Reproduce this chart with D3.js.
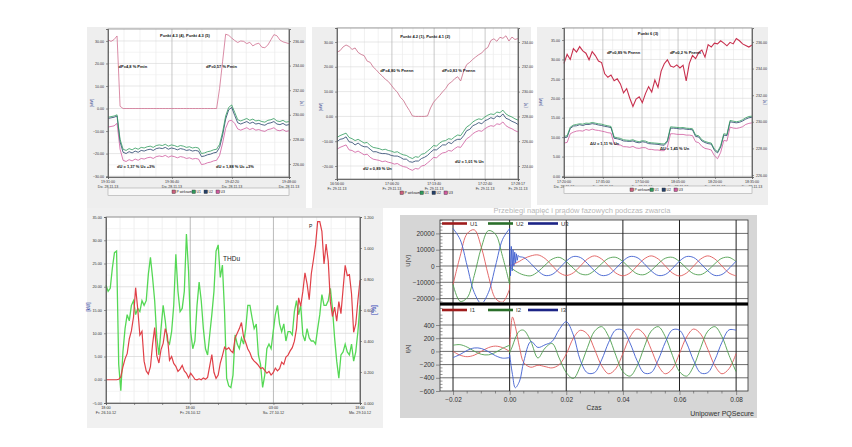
<!DOCTYPE html>
<html>
<head>
<meta charset="utf-8">
<script src="https://cdn.jsdelivr.net/npm/d3@7"></script>
<style>
  body { margin: 0; background: #fff; }
  svg { display: block; font-family: "Liberation Sans", Arial, sans-serif; }
</style>
</head>
<body>
<div id="chart"></div>
<script>
// ---------- data: top row trend records (61 samples each) ----------
var legendNames = ["P wirksam", "U1", "U2", "U3"];

var aTitle = "Punkt 4.3 (4), Punkt 4.3 (5)";
var aNotes = ["dP=4,8 % Pmin", "dP=0,57 % Pmin", "dU = 1,37 % Uc +3%", "dU = 1,88 % Uc +3%"];
var aP = [30.5,29.8,30.6,32.2,1.0,0,0,0,0,0, 0,0,0,0,0,0,0,0,0,0, 0,0,0,0,0,0,0,0,0,0,
  0,0,0,0,0,0,0,9,21,33.0, 32.5,31.3,30.2,29.3,30.0,29.8,28.8,29.4,27.8,28.6,
  29.0,27.2,27.0,28.2,30.5,32.8,32.3,30.4,29.6,29.2,28.8];
var aU1 = [229.8,229.85,229.9,230.0,228.0,227.2,227.1,227.25,227.15,227.3, 227.2,227.35,227.3,227.4,227.45,227.35,227.5,227.55,227.5,227.6,
  227.45,227.55,227.5,227.4,227.5,227.45,227.35,227.4,227.3,227.35, 227.3,226.85,226.9,227.0,227.05,227.15,227.2,227.6,228.6,229.9,
  230.6,230.8,230.2,229.6,229.5,229.6,229.7,229.55,229.65,229.5, 229.55,229.45,229.4,229.55,229.6,229.7,229.5,229.45,229.55,229.4,229.45];
var aU2 = [229.7,229.75,229.8,229.9,227.8,226.95,226.85,227.0,226.9,227.05, 226.95,227.1,227.05,227.15,227.2,227.1,227.25,227.3,227.25,227.35,
  227.2,227.3,227.25,227.15,227.25,227.2,227.1,227.15,227.05,227.1, 227.05,226.6,226.65,226.75,226.8,226.9,226.95,227.35,228.35,229.65,
  230.4,230.6,229.95,229.35,229.25,229.35,229.45,229.3,229.4,229.25, 229.3,229.2,229.15,229.3,229.35,229.45,229.25,229.2,229.3,229.15,229.2];
var aU3 = [229.0,229.05,229.1,229.3,227.2,226.3,226.2,226.35,226.25,226.4, 226.3,226.45,226.4,226.5,226.55,226.45,226.6,226.65,226.6,226.7,
  226.55,226.65,226.6,226.5,226.6,226.55,226.45,226.5,226.4,226.45, 226.4,225.95,226.0,226.1,226.15,226.25,226.3,226.7,227.7,228.9,
  229.5,229.55,229.3,228.85,228.75,228.85,228.95,228.8,228.9,228.75, 228.8,228.7,228.65,228.8,228.85,228.95,228.75,228.7,228.8,228.65,228.7];
var aLeftTicks = [30, 20, 10, 0, -10, -20, -30];
var aRightTicks = [236, 234, 232, 230, 228, 226];
var aTimeTicks = [0, 21.2, 41.1, 60];
var aTimeLabels = [["19:31:00", "Do. 28.11.13"], ["19:36:40", "Do. 28.11.13"], ["19:42:20", "Do. 28.11.13"], ["19:48:00", "Do. 28.11.13"]];

var bTitle = "Punkt 4.2 (1), Punkt 4.1 (2)";
var bNotes = ["dP=4,80 % Pnenn", "dP=0,83 % Pnenn", "dU = 0,89 % Un", "dU = 1,01 % Un"];
var bP = [25.9,26.5,28.0,28.8,28.2,27.0,27.6,25.8,25.0,24.5, 22.3,21.8,19.9,18.8,17.4,16.3,15.0,14.1,12.6,11.0,
  9.8,7.7,6.5,4.3,2.4,0.2,0,0,0,0, 0.2,3.4,5.7,7.1,8.4,9.9,11.2,13.1,13.9,15.2,
  16.0,14.3,18.3,20.9,21.8,23.0,24.0,24.9,25.6,27.0, 27.8,30.6,31.3,30.3,31.9,31.5,32.5,30.4,32.0,31.0,31.4];
var bU1 = [226.3,226.45,226.55,226.65,226.3,226.2,226.05,226.15,226.0,225.85, 225.9,225.65,225.5,225.45,225.4,225.3,225.35,225.25,225.2,225.1,
  225.15,225.0,224.9,224.85,224.7,224.6,224.75,224.7,224.95,225.0, 225.2,225.4,225.65,225.6,225.85,226.0,226.05,226.2,226.15,226.35,
  226.5,226.45,226.8,227.15,227.3,227.55,227.7,227.8,227.75,227.95, 228.1,228.2,228.15,228.35,228.3,228.5,228.2,228.05,227.95,227.8,227.7];
var bU2 = [225.95,226.15,226.2,226.35,225.95,225.9,225.7,225.85,225.65,225.55, 225.55,225.35,225.15,225.15,225.05,225.0,225.0,224.95,224.85,224.8,
  224.8,224.7,224.55,224.55,224.35,224.3,224.4,224.4,224.6,224.7, 224.85,225.1,225.3,225.3,225.5,225.7,225.7,225.9,225.8,226.05,
  226.15,226.15,226.45,226.85,226.95,227.25,227.35,227.5,227.4,227.65, 227.75,227.9,227.8,228.05,227.95,228.2,227.85,227.75,227.6,227.5,227.35];
var bU3 = [225.35,225.5,225.6,225.7,225.3,225.25,225.1,225.2,225.05,224.9, 224.95,224.7,224.55,224.5,224.45,224.35,224.4,224.3,224.25,224.15,
  224.2,224.05,223.95,223.9,223.75,223.65,223.8,223.75,224.0,224.05, 224.25,224.45,224.7,224.65,224.9,225.05,225.1,225.25,225.2,225.4,
  225.55,225.5,225.85,226.2,226.35,226.6,226.75,226.85,226.8,227.0, 227.15,227.25,227.2,227.4,227.35,227.55,227.25,227.1,227.0,226.85,226.75];
var bLeftTicks = [30, 20, 10, 0, -10, -20];
var bRightTicks = [234, 232, 230, 228, 226, 224];
var bTimeTicks = [0, 18.2, 32.2, 49.1, 60];
var bTimeLabels = [["16:56:00", "Fr. 29.11.13"], ["17:06:20", "Fr. 29.11.13"], ["17:13:40", "Fr. 29.11.13"], ["17:22:40", "Fr. 29.11.13"], ["17:28:17", "Fr. 29.11.13"]];

var cTitle = "Punkt 6 (3)";
var cNotes = ["dP=0,89 % Pnenn", "dP=0,2 % Pnenn", "\u0394U = 1,11 % Un", "\u0394U = 1,45 % Un"];
var cP = [29.0,31.3,30.0,32.8,31.9,33.3,32.2,31.6,29.9,32.0, 31.0,29.6,29.2,26.3,25.4,26.0,24.5,25.0,23.7,21.4,
  22.5,20.0,17.9,19.8,20.4,18.9,21.2,23.0,21.6,24.7, 22.8,27.0,28.9,29.9,28.3,28.0,28.6,27.8,28.5,24.5,
  29.0,31.0,30.2,31.8,32.4,30.6,33.8,33.2,34.2,34.0, 34.8,34.2,33.5,34.4,34.0,35.4,34.8,34.0,33.6,33.2,33.7];
var cU1 = [228.9,228.95,229.6,229.75,229.8,229.85,229.82,229.9,229.88,229.95, 229.9,229.85,229.82,229.75,229.7,229.65,228.85,228.8,228.75,228.65,
  228.62,228.6,228.65,228.55,228.5,228.58,228.55,228.45,228.42,228.4, 228.38,228.35,228.33,228.6,229.62,229.6,229.58,229.55,229.57,229.52,
  229.5,229.48,229.0,228.95,228.65,228.52,228.45,228.4,227.95,227.75, 228.2,229.1,229.05,230.1,230.05,230.0,230.05,230.15,230.3,230.4,230.42];
var cU2 = [228.8,228.85,229.5,229.68,229.7,229.78,229.72,229.8,229.8,229.86, 229.82,229.76,229.72,229.66,229.62,229.56,228.76,228.72,228.66,228.56,
  228.54,228.52,228.56,228.46,228.42,228.5,228.46,228.36,228.34,228.32, 228.3,228.26,228.24,228.5,229.52,229.52,229.5,229.46,229.48,229.44,
  229.42,229.4,228.9,228.86,228.56,228.44,228.36,228.32,227.86,227.66, 228.1,229.0,228.96,230.0,229.96,229.92,229.96,230.06,230.2,230.3,230.34];
var cU3 = [228.4,228.45,229.1,229.22,229.3,229.33,229.3,229.42,229.36,229.45, 229.38,229.35,229.3,229.25,229.18,229.15,228.35,228.28,228.25,228.13,
  228.12,228.08,228.15,228.03,228.0,228.06,228.05,227.93,227.92,227.88, 227.88,227.83,227.83,228.1,229.1,229.1,229.06,229.05,229.05,229.0,
  229.0,228.96,228.5,228.43,228.15,228.0,227.95,227.88,227.45,227.22, 227.7,228.6,228.55,229.6,229.53,229.5,229.55,229.63,229.8,229.88,229.92];
var cLeftTicks = [35, 30, 25, 20, 15, 10, 5, 0];
var cRightTicks = [236, 234, 232, 230, 228, 226];
var cTimeTicks = [0, 12.4, 24.9, 36.4, 48.2, 60];
var cTimeLabels = [["17:20:00", "Do. 28.11.13"], ["17:35:00", "Do. 28.11.13"], ["17:50:00", "Do. 28.11.13"], ["18:05:00", "Do. 28.11.13"], ["18:20:00", "Do. 28.11.13"], ["18:35:00", "Do. 28.11.13"]];

// ---------- data: bottom-left, P [kW] and THDu [%] (121 samples) ----------
var dP = [0,0,0,0,0,0,0.1,0.6,2.8,4.5, 5.6,8.8,10.5,13.5,19.8,15.2,9.6,10.4,4.0,1.9,
  1.2,2.8,7.6,11.2,5.2,3.6,6.5,7.8,11.0,9.5, 4.2,5.0,3.5,2.9,1.8,2.3,3.1,1.9,1.4,0.4,
  1.4,0.8,0.1,0.0,0.2,0.0,0.4,0.1,0.5,3.0, 5.4,1.6,0.3,1.0,3.6,5.2,7.0,6.5,6.9,6.2,
  5.8,9.0,10.0,11.0,12.3,9.2,8.0,6.6,5.8,4.6, 4.0,3.6,3.1,2.4,2.6,2.0,1.4,1.8,1.0,1.5,
  2.5,1.9,2.4,3.8,3.3,4.9,5.3,6.2,6.9,8.3, 11.0,17.6,15.8,19.0,23.0,20.6,17.2,22.8,25.8,29.0,
  34.0,34.0,31.9,24.9,29.2,25.5,16.8,13.6,15.6,12.6, 16.8,14.2,19.5,24.6,22.4,22.6,18.5,10.2,12.0,17.0, 21.4];
var dTHD = [0.76,0.72,0.74,0.87,0.97,0.98,0.25,0.08,0.33,0.48, 0.57,0.53,0.63,0.66,0.57,0.61,0.59,0.66,0.63,0.66,
  0.83,0.94,0.81,0.66,0.42,0.31,0.48,0.63,0.53,0.40, 0.38,0.46,0.63,0.96,0.72,0.59,0.61,0.72,1.09,0.85,
  0.46,0.35,0.40,0.63,0.78,0.66,0.48,0.35,0.31,0.44, 0.57,0.72,0.98,1.02,0.81,0.89,0.59,0.16,0.11,0.10,
  0.18,0.44,0.38,0.35,0.42,0.38,0.48,0.63,0.63,0.55, 0.48,0.51,0.31,0.25,0.10,0.18,0.35,0.38,0.35,0.46,
  0.57,0.63,0.51,0.46,0.51,0.40,0.46,0.46,0.44,0.59, 0.66,0.57,0.63,0.44,0.40,0.48,0.42,0.40,0.40,0.38,
  0.48,0.57,0.70,0.63,0.63,0.66,0.74,0.61,0.42,0.27, 0.16,0.31,0.33,0.38,0.33,0.31,0.38,0.27,0.33,0.46, 0.63];
var dLeftTicks = [35, 30, 25, 20, 15, 10, 5, 0, -5];
var dRightTicks = [1.2, 1.0, 0.8, 0.6, 0.4, 0.2, 0];
var dTimeTicks = [0, 39.8, 79.1, 120];
var dTimeLabels = [["18:00", "Fr. 26.10.12"], ["18:00", "Fr. 26.10.12"], ["03:00", "Sa. 27.10.12"], ["18:00", "Mo. 29.10.12"]];

// ---------- data: bottom-right, fault waveforms ----------
var eTitle = "Przebiegi napi\u0119\u0107 i pr\u0105d\u00f3w fazowych podczas zwarcia";
var tPre = [-0.02,-0.0175,-0.015,-0.0125,-0.01,-0.0075,-0.005,-0.0025,0];
var tPost = [0,0.001,0.002,0.0035,0.005,0.0075,0.01,0.0125,0.015,0.0175,0.02,0.0225,0.025,0.0275,0.03,0.0325,0.035,0.0375,
  0.04,0.0425,0.045,0.0475,0.05,0.0525,0.055,0.0575,0.06,0.0625,0.065,0.0675,0.07,0.0725,0.075,0.0775,0.08];
var u1Pre = [-11500,5950,19900,22200,11500,-5950,-19900,-22200,-14000];
var u2Pre = [-11250,-21700,-19500,-5800,11250,21700,19500,5800,-11250];
var u3Pre = [23000,16300,0,-16300,-23000,-16300,0,16300,23000];
var u1Post = [0,800,1600,2900,4500,6200,6800,4600,300,-4000,-5800,-4200,0,4300,6200,4300,0,-4300,
  -6000,-4300,0,4300,6200,4300,0,-4300,-6100,-4300,0,4300,6200,4300,0,-4300,-6100];
var u2Post = [-500,-1800,-3000,-4500,-5500,-6000,-3500,500,4200,5300,2750,-1420,-4760,-5310,-2750,1420,4760,5310,
  2750,-1420,-4760,-5310,-2750,1420,4760,5310,2750,-1420,-4760,-5310,-2750,1420,4760,5310,2750];
var u3Post = [null,null,null,5600,5200,1550,-3000,-5800,-5200,-1550,3000,5800,5200,1550,-3000,-5800,-5200,-1550,
  3000,5800,5200,1550,-3000,-5800,-5200,-1550,3000,5800,5200,1550,-3000,-5800,-5200,-1550,3000];
var tRing = [0,0.0003,0.0006,0.0009,0.0012,0.0015,0.0018,0.0021,0.0024,0.0027,0.003,0.0035];
var u3Ring = [14000,-6000,12000,-3000,10000,0,8500,2000,7500,3500,6500,5600];
var i1Pre = [0,-57,-80,-57,0,57,80,57,0];
var i2Pre = [94,102,65,4,-44,-52,-15,46,94];
var i3Pre = [-94,-46,15,52,44,-4,-65,-102,-94];
var i1Post = [0,520,380,60,-170,-240,-210,-230,-250,-200,-40,200,320,262,32,-217,-339,-262,
  -32,217,339,262,32,-217,-339,-262,-32,217,339,262,32,-217,-339,-262,-32];
var i2Post = [-20,80,200,310,320,150,-100,50,120,-100,-320,-410,-223,59,307,375,223,-59,
  -307,-375,-223,59,307,375,223,-59,-307,-375,-223,59,307,375,223,-59,-307];
var i3Post = [-50,-350,-550,-450,-150,150,60,100,150,330,450,250,-139,-326,-321,-129,139,326,
  321,129,-139,-326,-321,-129,139,326,321,129,-139,-326,-321,-129,139,326,321];
var uTicks = [20000, 10000, 0, -10000, -20000];
var iTicks = [400, 200, 0, -200, -400, -600];
var tTicks = [-0.02, 0, 0.02, 0.04, 0.06, 0.08];
var uNames = ["U1", "U2", "U3"];
var iNames = ["I1", "I2", "I3"];

// ---------- drawing ----------
var svg = d3.select("#chart").append("svg")
  .attr("width", 852)
  .attr("height", 447);

svg.append("rect").attr("width", 852).attr("height", 447).attr("fill", "#ffffff");

var FONT = "Liberation Sans, Arial, sans-serif";

function styleAxis(a, size, color) {
  a.attr("font-family", FONT).attr("font-size", size);
  a.select(".domain").attr("stroke", "#555").attr("stroke-width", 0.8);
  a.selectAll(".tick line").attr("stroke", "#555").attr("stroke-width", 0.6);
  a.selectAll(".tick text").attr("fill", color);
}

function hLines(g, vals, sc, x1, x2, color, w) {
  g.selectAll(null).data(vals).enter().append("line")
    .attr("x1", x1).attr("x2", x2)
    .attr("y1", d => sc(d)).attr("y2", d => sc(d))
    .attr("stroke", color).attr("stroke-width", w);
}

function vLines(g, vals, sc, y1, y2, color, w) {
  g.selectAll(null).data(vals).enter().append("line")
    .attr("x1", d => sc(d)).attr("x2", d => sc(d))
    .attr("y1", y1).attr("y2", y2)
    .attr("stroke", color).attr("stroke-width", w);
}

function between(ticks, parts) {
  var out = [];
  for (var k = 0; k < ticks.length - 1; k++) {
    for (var m = 1; m < parts; m++) out.push(ticks[k] + (ticks[k + 1] - ticks[k]) * m / parts);
  }
  return out;
}

var trendColors = ["#cc5f7c", "#2f9a5c", "#24406a", "#cf5a9e"];

function trendPanel(c) {
  var g = svg.append("g");
  var l = c.box[0], t = c.box[1], r = c.box[2], b = c.box[3];

  g.append("rect")
    .attr("x", c.bg[0]).attr("y", c.bg[1])
    .attr("width", c.bg[2]).attr("height", c.bg[3])
    .attr("fill", "#eeeeee");
  g.append("rect")
    .attr("x", l).attr("y", t).attr("width", r - l).attr("height", b - t)
    .attr("fill", "#ffffff");

  var x = d3.scaleLinear().domain([0, c.p.length - 1]).range([l, r]);
  var yL = d3.scaleLinear().domain(c.lDom).range([b, t]);
  var yR = d3.scaleLinear().domain(c.rDom).range([b, t]);

  // grid
  vLines(g, between(c.xTicks, 4), x, t, b, "#e8e8e8", 0.6);
  hLines(g, between(c.lTicks, 2), yL, l, r, "#ededed", 0.6);
  hLines(g, c.lTicks, yL, l, r, "#d6d6d6", 0.6);
  vLines(g, c.xTicks, x, t, b, "#b2b2b2", 0.7);

  // series
  var lineL = d3.line().x((d, i) => x(i)).y(d => yL(d));
  var lineR = d3.line().x((d, i) => x(i)).y(d => yR(d));
  [c.u3, c.u2, c.u1].forEach(function(s, k) {
    g.append("path").datum(s).attr("d", lineR)
      .attr("fill", "none").attr("stroke", trendColors[3 - k]).attr("stroke-width", 0.8);
  });
  g.append("path").datum(c.p).attr("d", lineL)
    .attr("fill", "none").attr("stroke", c.pColor).attr("stroke-width", c.pWidth);

  g.append("rect")
    .attr("x", l).attr("y", t).attr("width", r - l).attr("height", b - t)
    .attr("fill", "none").attr("stroke", "#777").attr("stroke-width", 0.7);

  // axes
  var axL = g.append("g").attr("transform", `translate(${l},0)`)
    .call(d3.axisLeft(yL).tickValues(c.lTicks).tickFormat(d3.format(".2f")).tickSize(2).tickPadding(2));
  var axR = g.append("g").attr("transform", `translate(${r},0)`)
    .call(d3.axisRight(yR).tickValues(c.rTicks).tickFormat(d3.format(".2f")).tickSize(2).tickPadding(2));
  var axB = g.append("g").attr("transform", `translate(0,${b})`)
    .call(d3.axisBottom(x).tickValues(c.xTicks).tickFormat("").tickSize(2));
  [axL, axR, axB].forEach(a => styleAxis(a, 3.6, "#333"));

  c.xTicks.forEach(function(v, k) {
    var tx = g.append("text").attr("x", x(v)).attr("y", b + 6)
      .attr("text-anchor", "middle").attr("font-size", 3.6).attr("fill", "#333");
    tx.append("tspan").attr("x", x(v)).text(c.xLabels[k][0]);
    tx.append("tspan").attr("x", x(v)).attr("dy", 4.5).text(c.xLabels[k][1]);
  });

  // units
  g.append("text").attr("transform", `translate(${c.unitL[0]},${c.unitL[1]}) rotate(-90)`)
    .attr("text-anchor", "middle").attr("font-size", 4).attr("fill", "#2a3a8a").text("[kW]");
  g.append("text").attr("transform", `translate(${c.unitR[0]},${c.unitR[1]}) rotate(-90)`)
    .attr("text-anchor", "middle").attr("font-size", 4).attr("fill", "#2a3a8a").text("[V]");

  // title and notes
  g.append("text").attr("x", x(c.titleAt[0])).attr("y", yL(c.titleAt[1]))
    .attr("text-anchor", "middle").attr("font-size", 4).attr("font-weight", "bold")
    .attr("fill", "#111").text(c.title);
  c.notes.forEach(function(n, k) {
    g.append("text").attr("x", x(c.notesAt[k][0])).attr("y", yL(c.notesAt[k][1]))
      .attr("font-size", 4).attr("font-weight", "bold").attr("fill", "#111").text(n);
  });

  // legend
  if (c.legendBox) {
    g.append("rect").attr("x", l).attr("y", c.legendY - 4).attr("width", r - l).attr("height", 7.5)
      .attr("fill", "#f8f8f8").attr("stroke", "#999").attr("stroke-width", 0.5);
  }
  var lx = c.legendX;
  legendNames.forEach(function(name, k) {
    g.append("rect").attr("x", lx).attr("y", c.legendY - 2).attr("width", 3.5).attr("height", 3.5)
      .attr("fill", trendColors[k]).attr("stroke", "#333").attr("stroke-width", 0.4);
    g.append("text").attr("x", lx + 4.5).attr("y", c.legendY + 1.3)
      .attr("font-size", 3.4).attr("fill", "#222").text(name);
    lx += k === 0 ? 20 : 12;
  });
}

trendPanel({
  p: aP, u1: aU1, u2: aU2, u3: aU3, title: aTitle, notes: aNotes,
  lTicks: aLeftTicks, rTicks: aRightTicks, xTicks: aTimeTicks, xLabels: aTimeLabels,
  bg: [87, 27, 219, 181], box: [108, 29, 289, 177],
  lDom: [-30.4, 35.3], rDom: [224.94, 236.98],
  titleAt: [25.5, 31.8], notesAt: [[3.5, 18.0], [32.5, 18.0], [3, -26.4], [35.8, -26.4]],
  legendX: 172, legendY: 192, legendBox: true,
  unitL: [93, 103], unitR: [303, 103], pColor: "#d07090", pWidth: 0.8
});

trendPanel({
  p: bP, u1: bU1, u2: bU2, u3: bU3, title: bTitle, notes: bNotes,
  lTicks: bLeftTicks, rTicks: bRightTicks, xTicks: bTimeTicks, xLabels: bTimeLabels,
  bg: [312, 27, 219, 181], box: [337, 28, 518, 179],
  lDom: [-25.24, 35.65], rDom: [222.95, 235.13],
  titleAt: [29.2, 31.8], notesAt: [[14.3, 17.9], [34.8, 17.9], [8.6, -21.6], [39.1, -18.75]],
  legendX: 400, legendY: 193, legendBox: false,
  unitL: [322, 107], unitR: [527, 105], pColor: "#c86a86", pWidth: 0.8
});

trendPanel({
  p: cP, u1: cU1, u2: cU2, u3: cU3, title: cTitle, notes: cNotes,
  lTicks: cLeftTicks, rTicks: cRightTicks, xTicks: cTimeTicks, xLabels: cTimeLabels,
  bg: [537, 27, 231, 178], box: [564, 28, 752, 177],
  lDom: [-0.26, 38.09], rDom: [225.85, 237.05],
  titleAt: [26.8, 36.4], notesAt: [[13.7, 31.3], [33.8, 31.3], [8.3, 8.1], [30.6, 6.8]],
  legendX: 630, legendY: 190, legendBox: true,
  unitL: [542, 102], unitR: [766, 102], pColor: "#c8304e", pWidth: 1.1
});

// ---------- bottom-left: P and THDu ----------
(function() {
  var g = svg.append("g");
  var l = 106, t = 217, r = 360, b = 403;
  g.append("rect").attr("x", 87).attr("y", 208).attr("width", 296).attr("height", 220).attr("fill", "#f0f0f0");
  g.append("rect").attr("x", l).attr("y", t).attr("width", r - l).attr("height", b - t).attr("fill", "#fff");

  var x = d3.scaleLinear().domain([0, dP.length - 1]).range([l, r]);
  var yL = d3.scaleLinear().domain([-5, 35]).range([b, t]);
  var yR = d3.scaleLinear().domain([0, 1.2]).range([b, t]);

  vLines(g, between(dTimeTicks, 6), x, t, b, "#e6e6e6", 0.6);
  hLines(g, between(dLeftTicks, 2), yL, l, r, "#eeeeee", 0.6);
  hLines(g, dLeftTicks, yL, l, r, "#d4d4d4", 0.7);
  vLines(g, dTimeTicks, x, t, b, "#a8a8a8", 0.8);

  g.append("path").datum(dTHD)
    .attr("d", d3.line().x((d, i) => x(i)).y(d => yR(d)))
    .attr("fill", "none").attr("stroke", "#55d855").attr("stroke-width", 1.3);
  g.append("path").datum(dP)
    .attr("d", d3.line().x((d, i) => x(i)).y(d => yL(d)))
    .attr("fill", "none").attr("stroke", "#e04048").attr("stroke-width", 1.2);

  g.append("rect").attr("x", l).attr("y", t).attr("width", r - l).attr("height", b - t)
    .attr("fill", "none").attr("stroke", "#777").attr("stroke-width", 0.7);

  var axL = g.append("g").attr("transform", `translate(${l},0)`)
    .call(d3.axisLeft(yL).tickValues(dLeftTicks).tickFormat(d3.format(".2f")).tickSize(2).tickPadding(2));
  var axR = g.append("g").attr("transform", `translate(${r},0)`)
    .call(d3.axisRight(yR).tickValues(dRightTicks).tickFormat(d3.format(".3f")).tickSize(2).tickPadding(2));
  var axB = g.append("g").attr("transform", `translate(0,${b})`)
    .call(d3.axisBottom(x).tickValues(between(dTimeTicks, 3).concat(dTimeTicks)).tickFormat("").tickSize(2));
  [axL, axR, axB].forEach(a => styleAxis(a, 3.8, "#333"));

  dTimeTicks.forEach(function(v, k) {
    var tx = g.append("text").attr("x", x(v)).attr("y", b + 6)
      .attr("text-anchor", "middle").attr("font-size", 3.8).attr("fill", "#333");
    tx.append("tspan").attr("x", x(v)).text(dTimeLabels[k][0]);
    tx.append("tspan").attr("x", x(v)).attr("dy", 5).text(dTimeLabels[k][1]);
  });

  g.append("text").attr("transform", "translate(90,307) rotate(-90)")
    .attr("text-anchor", "middle").attr("font-size", 4.5).attr("fill", "#2a3aa0").text("[kW]");
  g.append("text").attr("transform", "translate(376,310) rotate(-90)")
    .attr("text-anchor", "middle").attr("font-size", 7).attr("fill", "#3a4ab8").text("[%]");

  g.append("text").attr("x", x(55.3)).attr("y", yL(25.6))
    .attr("font-size", 6.5).attr("fill", "#222").text("THDu");
  g.append("text").attr("x", x(95.9)).attr("y", yL(32.7))
    .attr("font-size", 5).attr("fill", "#222").text("P");
})();

// ---------- bottom-right: fault waveforms ----------
(function() {
  var g = svg.append("g");
  var l = 440, r = 748;
  g.append("text").attr("x", 582).attr("y", 213).attr("text-anchor", "middle")
    .attr("font-size", 7.5).attr("fill", "#b8b8b8").text(eTitle);
  g.append("rect").attr("x", 400).attr("y", 215).attr("width", 357).attr("height", 203).attr("fill", "#d6d6d6");
  g.append("rect").attr("x", l).attr("y", 220).attr("width", r - l).attr("height", 82).attr("fill", "#fff");
  g.append("rect").attr("x", l).attr("y", 306).attr("width", r - l).attr("height", 85).attr("fill", "#fff");

  var x = d3.scaleLinear().domain([-0.0246, 0.0842]).range([l, r]);
  var yU = d3.scaleLinear().domain([-22090, 28220]).range([302, 220]);
  var yI = d3.scaleLinear().domain([-600, 688]).range([391, 306]);

  hLines(g, uTicks, yU, l, r, "#6e6e6e", 1);
  hLines(g, iTicks.slice(0, 5), yI, l, r, "#6e6e6e", 1);
  vLines(g, tTicks, x, 220, 391, "#222", 1);

  var defs = svg.append("defs");
  defs.append("clipPath").attr("id", "clipU").append("rect")
    .attr("x", l).attr("y", 220).attr("width", r - l).attr("height", 82);
  defs.append("clipPath").attr("id", "clipI").append("rect")
    .attr("x", l).attr("y", 306).attr("width", r - l).attr("height", 85);

  function wave(ts, vs, sc, color, clip, curve) {
    var pts = ts.map((tv, k) => [tv, vs[k]]);
    g.append("path").datum(pts).attr("clip-path", clip)
      .attr("d", d3.line().defined(d => d[1] != null).x(d => x(d[0])).y(d => sc(d[1])).curve(curve))
      .attr("fill", "none").attr("stroke", color).attr("stroke-width", 0.9);
  }
  var waveColors = ["#e05a5a", "#4e9e4e", "#3f5fcf"];
  var uPre = [u1Pre, u2Pre, u3Pre], uPost = [u1Post, u2Post, u3Post];
  var iPre = [i1Pre, i2Pre, i3Pre], iPost = [i1Post, i2Post, i3Post];
  for (var k = 0; k < 3; k++) {
    wave(tPre, uPre[k], yU, waveColors[k], "url(#clipU)", d3.curveCatmullRom);
    wave(tPost, uPost[k], yU, waveColors[k], "url(#clipU)", d3.curveCatmullRom);
    var jump = k === 2 ? u3Ring[0] : uPost[k][0];
    wave([0, 0], [uPre[k][8], jump], yU, waveColors[k], "url(#clipU)", d3.curveLinear);
    wave(tPre, iPre[k], yI, waveColors[k], "url(#clipI)", d3.curveCatmullRom);
    wave(tPost, iPost[k], yI, waveColors[k], "url(#clipI)", d3.curveCatmullRom);
    wave([0, 0], [iPre[k][8], iPost[k][0]], yI, waveColors[k], "url(#clipI)", d3.curveLinear);
  }
  wave(tRing, u3Ring, yU, waveColors[2], "url(#clipU)", d3.curveLinear);

  // frames and separator
  g.append("rect").attr("x", l).attr("y", 220).attr("width", r - l).attr("height", 171)
    .attr("fill", "none").attr("stroke", "#333").attr("stroke-width", 0.8);
  g.append("line").attr("x1", l).attr("x2", r).attr("y1", 304).attr("y2", 304)
    .attr("stroke", "#000").attr("stroke-width", 3);

  // legends
  var legColors = ["#9e1c1c", "#2a6e2a", "#1c2486"];
  var legX = [442, 488, 528], legW = [25, 25, 30];
  [[uNames, 223.5], [iNames, 310]].forEach(function(set) {
    set[0].forEach(function(name, k) {
      g.append("line").attr("x1", legX[k]).attr("x2", legX[k] + legW[k])
        .attr("y1", set[1]).attr("y2", set[1])
        .attr("stroke", legColors[k]).attr("stroke-width", 2.6);
      g.append("text").attr("x", legX[k] + legW[k] + 3).attr("y", set[1] + 2.2)
        .attr("font-size", 6).attr("fill", "#333").text(name);
    });
  });

  // axes
  var axU = g.append("g").attr("transform", `translate(${l},0)`)
    .call(d3.axisLeft(yU).tickValues(uTicks).tickFormat(d3.format("d")).tickSize(4).tickPadding(1.5));
  var axI = g.append("g").attr("transform", `translate(${l},0)`)
    .call(d3.axisLeft(yI).tickValues(iTicks).tickFormat(d3.format("d")).tickSize(4).tickPadding(1.5));
  var axT = g.append("g").attr("transform", "translate(0,391)")
    .call(d3.axisBottom(x).tickValues(tTicks).tickFormat(d3.format(".2f")).tickSize(4).tickPadding(2));
  [axU, axI, axT].forEach(a => styleAxis(a, 6.5, "#333"));
  [axU, axI, axT].forEach(a => a.select(".domain").remove());

  var minorU = d3.range(-22000, 28001, 2000).filter(v => v % 10000 !== 0);
  var minorI = d3.range(-550, 651, 50).filter(v => v % 200 !== 0);
  g.selectAll(null).data(minorU).enter().append("line")
    .attr("x1", l).attr("x2", l + 2.5).attr("y1", d => yU(d)).attr("y2", d => yU(d))
    .attr("stroke", "#555").attr("stroke-width", 0.6);
  g.selectAll(null).data(minorI).enter().append("line")
    .attr("x1", l).attr("x2", l + 2.5).attr("y1", d => yI(d)).attr("y2", d => yI(d))
    .attr("stroke", "#555").attr("stroke-width", 0.6);
  g.selectAll(null).data(between(tTicks, 4)).enter().append("line")
    .attr("x1", d => x(d)).attr("x2", d => x(d)).attr("y1", 391).attr("y2", 393.5)
    .attr("stroke", "#555").attr("stroke-width", 0.6);

  g.append("text").attr("transform", "translate(410,261) rotate(-90)")
    .attr("text-anchor", "middle").attr("font-size", 6).attr("fill", "#333").text("U[V]");
  g.append("text").attr("transform", "translate(410,349) rotate(-90)")
    .attr("text-anchor", "middle").attr("font-size", 6).attr("fill", "#333").text("I[A]");
  g.append("text").attr("x", 594).attr("y", 410).attr("text-anchor", "middle")
    .attr("font-size", 6.5).attr("fill", "#333").text("Czas");
  g.append("text").attr("x", 754).attr("y", 416).attr("text-anchor", "end")
    .attr("font-size", 7).attr("fill", "#333").text("Unipower PQSecure");
})();
</script>
</body>
</html>
